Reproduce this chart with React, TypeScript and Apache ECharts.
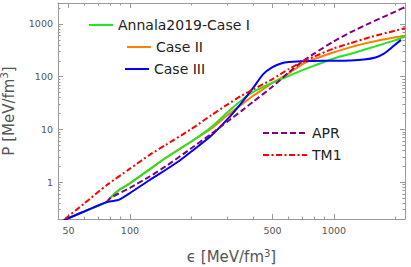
import { useEffect, useRef } from "react";
import * as echarts from "echarts";

// ---- data (energy density eps [MeV/fm^3], pressure P [MeV/fm^3]) ----
const crustEps = [45, 49, 60, 70, 77];
const crustP = [0.17, 0.2, 0.28, 0.36, 0.42];

const caseIEps = [82, 88, 100, 125, 150, 200, 250, 300, 350, 400, 450, 500, 600, 700, 800, 1000, 1200, 1500, 2000, 2230];
const caseIP = [0.55, 0.7, 0.95, 1.75, 2.9, 5.9, 11, 21, 35, 51, 64, 77, 103, 133, 162, 222, 270, 350, 495, 580];

const caseIIEps = [82, 88, 100, 125, 150, 200, 250, 300, 350, 400, 450, 500, 600, 700, 800, 1000, 1200, 1500, 2000, 2230];
const caseIIP = [0.55, 0.7, 0.95, 1.75, 2.9, 5.9, 10.3, 18.5, 29, 43, 58, 76, 115, 172, 215, 290, 360, 450, 560, 600];

const caseIIIEps = [83, 88, 100, 125, 150, 175, 200, 250, 300, 350, 400, 450, 500, 550, 600, 700, 800, 1000, 1200, 1400, 1600, 1750, 1900, 2000, 2130];
const caseIIIP = [0.44, 0.46, 0.62, 1.1, 1.72, 2.55, 3.8, 7.6, 15.5, 31, 60, 112, 152, 178, 190, 196, 199, 201, 204, 212, 232, 270, 345, 410, 500];

const aprEps = [77, 80, 100, 125, 150, 200, 250, 300, 350, 400, 500, 600, 700, 800, 1000, 1200, 1500, 1800, 2000, 2230];
const aprP = [0.42, 0.5, 0.78, 1.28, 2.0, 4.4, 8.2, 14, 22, 33, 65, 120, 195, 275, 470, 690, 1040, 1430, 1720, 2100];

const tm1Eps = [48, 60, 77, 100, 125, 150, 200, 250, 300, 350, 400, 500, 600, 700, 800, 1000, 1200, 1500, 2000, 2230];
const tm1P = [0.2, 0.4, 0.88, 1.8, 3.3, 5.1, 10.2, 18.5, 29.5, 43, 57, 90, 140, 190, 240, 345, 430, 560, 750, 830];

const xMajor = [50, 100, 500, 1000];
const xMinor = [60, 70, 80, 90, 200, 300, 400, 600, 700, 800, 900, 2000];
const yMajor = [1, 10, 100, 1000];
const yMinor = [0.3, 0.4, 0.5, 0.6, 0.7, 0.8, 0.9, 2, 3, 4, 5, 6, 7, 8, 9, 20, 30, 40, 50, 60, 70, 80, 90, 200, 300, 400, 500, 600, 700, 800, 900, 2000];

const X_MIN = 44.4;
const X_MAX = 2230;
const Y_MIN = 0.2;
const Y_MAX = 2500;

const FONT = "DejaVu Sans";
const FRAME = "#9a9a9a";
const LABEL = "#555555";

const pairs = (xs: number[], ys: number[]) => xs.map((x, i) => [x, ys[i]]);
const withCrust = (xs: number[], ys: number[]) => [...pairs(crustEps, crustP), ...pairs(xs, ys)];

export default function App() {
  const ref = useRef<HTMLDivElement>(null);

  useEffect(() => {
    if (!ref.current) return;
    const chart = echarts.init(ref.current, undefined, { renderer: "svg" });

    const supRich = {
      s: { fontSize: 10, lineHeight: 10, verticalAlign: "top", fontFamily: FONT, color: LABEL },
    };

    const xAxisBase = (position: string, ticks: number[], len: number, showLine: boolean, labels: boolean, extra: any = {}) => ({
      type: "log",
      logBase: 10,
      min: X_MIN,
      max: X_MAX,
      position,
      gridIndex: 0,
      axisLine: { show: showLine, lineStyle: { color: FRAME, width: 1 } },
      axisTick: { show: true, inside: true, length: len, customValues: ticks, lineStyle: { color: FRAME, width: 1 } },
      axisLabel: labels
        ? { show: true, customValues: xMajor, formatter: (v: number) => String(v), color: LABEL, fontSize: 9.5, fontFamily: FONT, margin: 6 }
        : { show: false },
      splitLine: { show: false },
      minorTick: { show: false },
      ...extra,
    });

    const yAxisBase = (position: string, ticks: number[], len: number, showLine: boolean, labels: boolean, extra: any = {}) => ({
      type: "log",
      logBase: 10,
      min: Y_MIN,
      max: Y_MAX,
      position,
      gridIndex: 0,
      axisLine: { show: showLine, lineStyle: { color: FRAME, width: 1 } },
      axisTick: { show: true, inside: true, length: len, customValues: ticks, lineStyle: { color: FRAME, width: 1 } },
      axisLabel: labels
        ? { show: true, customValues: yMajor, formatter: (v: number) => String(v), color: LABEL, fontSize: 9.5, fontFamily: FONT, margin: 5 }
        : { show: false },
      splitLine: { show: false },
      minorTick: { show: false },
      ...extra,
    });

    const line = (name: string, data: number[][], color: string, type: any, z: number) => ({
      name,
      type: "line",
      xAxisIndex: 0,
      yAxisIndex: 0,
      data,
      symbol: "none",
      smooth: 0.2,
      clip: true,
      z,
      lineStyle: { color, width: 2, type },
      itemStyle: { color },
    });

    const legendAt = (name: string, left: number, top: number, width: number) => ({
      data: [name],
      left,
      top,
      orient: "horizontal",
      padding: 0,
      itemWidth: width,
      itemHeight: 14,
      selectedMode: false,
      itemStyle: { opacity: 0 },
      textStyle: { fontFamily: FONT, fontSize: 14, color: "#222" },
    });

    chart.setOption({
      animation: false,
      backgroundColor: "#ffffff",
      grid: { left: 58, right: 6, top: 3, bottom: 48, containLabel: false, outerBoundsMode: "none" },
      xAxis: [
        xAxisBase("bottom", xMajor, 5, true, true, {
          name: "ϵ [MeV/fm{s|3}]",
          nameLocation: "middle",
          nameGap: 29,
          nameTextStyle: { fontFamily: FONT, fontSize: 15, color: LABEL, lineHeight: 18, rich: supRich },
        }),
        xAxisBase("bottom", xMinor, 2.5, false, false),
        xAxisBase("top", xMajor, 5, true, false),
        xAxisBase("top", xMinor, 2.5, false, false),
      ],
      yAxis: [
        yAxisBase("left", yMajor, 5, true, true, {
          name: "P [MeV/fm{s|3}]",
          nameLocation: "middle",
          nameGap: 29,
          nameTextStyle: { fontFamily: FONT, fontSize: 15, color: LABEL, lineHeight: 18, rich: supRich },
        }),
        yAxisBase("left", yMinor, 2.5, false, false),
        yAxisBase("right", yMajor, 5, true, false),
        yAxisBase("right", yMinor, 2.5, false, false),
      ],
      legend: [
        legendAt("Annala2019-Case I", 88, 18, 24),
        legendAt("Case II", 126, 40, 24),
        legendAt("Case III", 124, 62, 24),
        legendAt("APR", 262, 126, 44),
        legendAt("TM1", 262, 148, 44),
      ],
      series: [
        line("Case II", withCrust(caseIIEps, caseIIP), "#ff8000", "solid", 2),
        line("Annala2019-Case I", withCrust(caseIEps, caseIP), "#22e622", "solid", 3),
        line("Case III", withCrust(caseIIIEps, caseIIIP), "#0000ff", "solid", 4),
        line("APR", pairs(aprEps, aprP), "#800080", [6, 3], 5),
        line("TM1", pairs(tm1Eps, tm1P), "#ff0000", [6, 2.5, 2, 2.5], 6),
      ],
    });

    return () => chart.dispose();
  }, []);

  return (
    <div
      ref={ref}
      style={{ position: "fixed", left: 0, top: 0, width: 411, height: 267, background: "#fff" }}
    />
  );
}
